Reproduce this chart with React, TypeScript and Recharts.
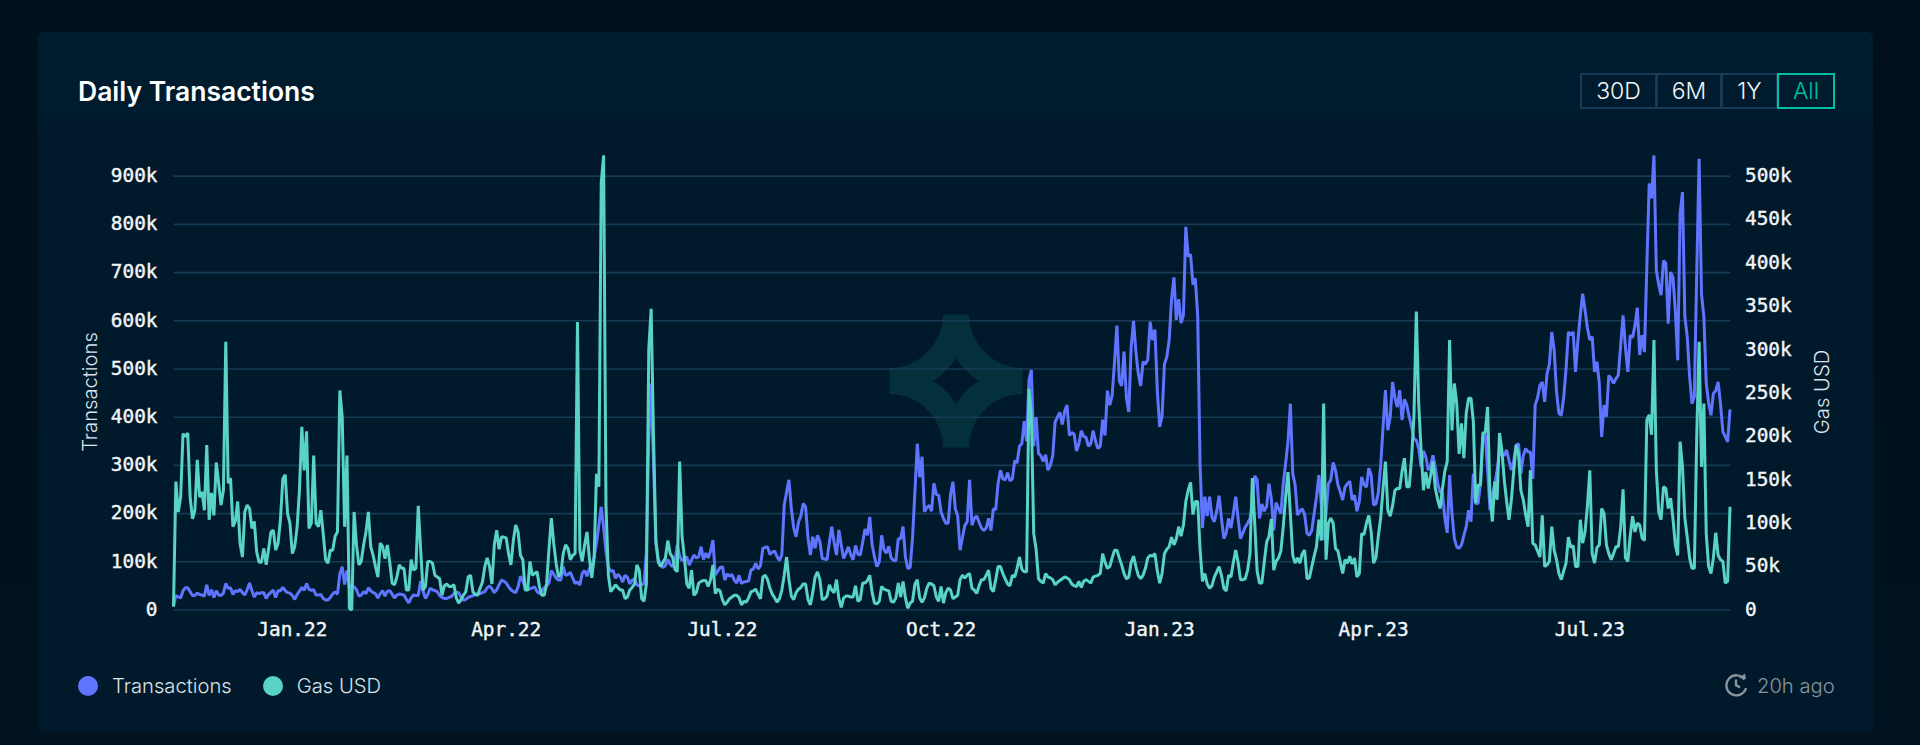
import { CartesianGrid, Legend, Line, LineChart, XAxis, YAxis } from 'recharts';

// one value per day, starting 12 Nov 2021, in thousands
const transactionsK = [
  7, 30, 27, 25, 40, 46, 46, 38, 30, 30, 35, 32, 31, 29, 52, 30, 42, 26, 40, 31,
  30, 35, 55, 45, 46, 32, 40, 38, 43, 36, 31, 42, 56, 40, 27, 36, 34, 36, 36, 24,
  32, 37, 41, 26, 40, 40, 47, 40, 36, 35, 30, 22, 32, 39, 47, 41, 55, 43, 41, 42,
  31, 31, 32, 24, 21, 21, 26, 33, 38, 33, 75, 90, 53, 82, 45, 50, 48, 42, 29, 31,
  38, 34, 46, 40, 36, 34, 25, 34, 40, 29, 39, 40, 33, 25, 31, 33, 32, 31, 22, 15,
  25, 31, 30, 30, 60, 40, 24, 32,
  45, 42, 40, 38, 30, 26, 24, 24, 26, 28, 34, 37, 36, 27, 20, 22, 26, 28, 30, 32,
  33, 34, 36, 38, 46, 50, 44, 36, 42, 52, 62, 60, 56, 48, 42, 38, 36, 48, 70, 60,
  46, 42, 44, 46, 48, 38, 34, 40, 46, 50, 56, 82, 74, 66, 62, 62, 90, 72, 74, 78,
  66, 55, 58, 52, 76, 82, 70, 86, 92, 110, 138, 176, 214, 172, 120, 90, 80, 82, 66, 74,
  69, 58, 72, 68, 54, 62, 64, 52, 50, 52, 55, 120, 350, 470, 300, 138, 105, 95, 88, 92,
  105, 95, 90, 100, 135, 112, 102, 108, 110,
  93, 104, 114, 108, 110, 131, 105, 118, 108, 122, 145, 73, 80, 88, 90, 62, 75, 70, 74, 62,
  56, 72, 55, 58, 59, 60, 83, 85, 97, 85, 92, 128, 130, 131, 115, 120, 122, 110, 103, 115,
  218, 245, 270, 210, 170, 152, 182, 195, 221, 214, 150, 114, 152, 128, 155, 142, 107, 106, 104, 140,
  173, 140, 114, 166, 135, 107, 118, 131, 115, 104, 134, 116, 114, 140, 168, 155, 193, 135, 110, 90,
  100, 155, 125, 118, 132, 108, 103, 102, 148, 148, 173, 110, 86, 88, 150, 245, 345, 275, 318, 204,
  212, 217, 205, 263, 240, 238, 204, 190, 180,
  180, 240, 266, 210, 195, 124, 150, 175, 183, 270, 176, 190, 195, 182, 170, 165, 170, 190, 165, 210,
  208, 263, 290, 272, 270, 285, 268, 272, 310, 305, 340, 345, 392, 350, 477, 498, 340, 400, 325, 320,
  308, 322, 290, 300, 320, 390, 400, 410, 385, 412, 425, 362, 368, 365, 330, 345, 372, 360, 358, 340,
  345, 372, 350, 335, 340, 395, 362, 455, 425, 445, 515, 590, 475, 465, 536, 440, 411, 545, 600, 535,
  490, 465, 515, 510, 520, 598, 560, 582, 455, 380, 402, 510, 525, 560, 645, 690, 602, 645, 595, 612,
  795, 733, 738, 675, 688, 610, 300, 170, 235, 195,
  235, 193, 183, 205, 237, 190, 148, 160, 190, 170, 200, 235, 190, 148, 160, 172, 180, 190, 220, 278,
  270, 190, 220, 205, 215, 262, 230, 165, 223, 210, 200, 262, 304, 350, 428, 283, 259, 197, 205, 210,
  198, 159, 155, 165, 200, 235, 280, 220, 145, 200, 262, 270, 306, 290, 260, 245, 228, 255, 262, 267,
  228, 238, 205, 225, 276, 260, 255, 294, 280, 218, 220, 243, 300, 380, 456, 373, 400, 473, 440, 421,
  456, 394, 437, 425, 401, 380, 355, 352, 335, 297, 330, 318, 290, 300, 321, 295, 262, 245, 242, 190,
  160, 280, 200, 148, 131, 128, 135, 155, 173, 207,
  183, 283, 221, 221, 262, 359, 366, 290, 207, 240, 262, 290, 332, 321, 321, 332, 310, 290, 310, 342,
  345, 283, 320, 335, 328, 328, 272, 425, 440, 466, 473, 432, 490, 510, 577, 539, 453, 408, 404, 440,
  500, 577, 570, 577, 494, 560, 610, 656, 622, 585, 560, 567, 494, 515, 470, 359, 425, 401, 487, 480,
  470, 480, 487, 550, 611, 545, 494, 570, 565, 590, 627, 529, 570, 535, 712, 885, 854, 943, 705, 675,
  653, 725, 720, 594, 701, 690, 620, 518, 822, 867, 608, 567, 484, 428, 443, 700, 936, 656, 608, 470,
  430, 404, 449, 455, 473, 428, 370, 360, 349, 416,
];

const gasUsdK = [
  4, 148, 113, 130, 203, 200, 204, 130, 105, 115, 173, 130, 136, 115, 190, 104, 135, 109, 170, 146,
  121, 138, 309, 146, 152, 96, 102, 125, 77, 61, 113, 121, 117, 94, 102, 67, 55, 55, 71, 52,
  70, 90, 92, 69, 77, 104, 151, 156, 111, 100, 65, 73, 95, 138, 211, 161, 206, 94, 100, 178,
  100, 96, 115, 88, 58, 54, 69, 69, 85, 90, 253, 222, 96, 178, 2, 0, 113, 75, 52, 56,
  75, 90, 113, 73, 63, 50, 38, 77, 73, 59, 75, 55, 31, 29, 38, 52, 48, 48, 23, 23,
  58, 46, 48, 120, 70, 23, 27, 56,
  56, 54, 40, 38, 36, 17, 28, 30, 27, 27, 29, 14, 8, 12, 17, 21, 38, 40, 21, 18,
  17, 25, 32, 50, 60, 50, 30, 75, 92, 70, 84, 84, 83, 65, 52, 80, 98, 90, 63, 58,
  23, 23, 56, 40, 42, 44, 27, 17, 17, 30, 70, 106, 77, 54, 38, 42, 65, 75, 71, 58,
  63, 65, 332, 69, 56, 75, 90, 60, 37, 60, 157, 142, 492, 524, 120, 40, 21, 25, 29, 26,
  23, 23, 13, 15, 23, 26, 30, 52, 46, 13, 10, 30, 300, 347, 200, 80, 55, 50, 55, 60,
  80, 65, 61, 47, 44, 171, 85, 60, 30,
  25, 46, 17, 20, 31, 33, 34, 34, 27, 35, 52, 19, 24, 22, 12, 6, 9, 13, 15, 17,
  17, 14, 6, 10, 9, 14, 21, 22, 24, 18, 13, 38, 40, 35, 25, 18, 14, 9, 13, 23,
  40, 61, 35, 16, 12, 20, 24, 26, 30, 30, 12, 6, 20, 38, 44, 35, 12, 13, 16, 29,
  23, 20, 35, 13, 3, 14, 16, 16, 15, 15, 28, 10, 12, 31, 31, 34, 40, 20, 8, 7,
  10, 27, 24, 23, 22, 10, 9, 14, 31, 15, 33, 14, 2, 8, 10, 30, 35, 14, 9, 14,
  25, 31, 30, 28, 15, 10, 27, 8, 20,
  25, 23, 13, 15, 17, 35, 40, 37, 40, 42, 25, 23, 19, 28, 35, 35, 40, 46, 25, 21,
  35, 50, 50, 42, 36, 30, 28, 40, 38, 48, 61, 47, 44, 44, 255, 223, 88, 70, 36, 33,
  31, 42, 38, 37, 35, 29, 32, 34, 36, 38, 37, 35, 30, 28, 27, 33, 26, 33, 35, 33,
  31, 38, 39, 40, 42, 65, 55, 48, 50, 60, 69, 69, 60, 52, 42, 36, 38, 55, 62, 50,
  40, 36, 40, 48, 60, 63, 62, 65, 45, 31, 42, 65, 70, 73, 84, 75, 82, 96, 85, 98,
  125, 138, 147, 110, 125, 125, 70, 33, 42, 30,
  25, 28, 38, 44, 50, 40, 25, 22, 40, 38, 55, 69, 55, 35, 35, 36, 46, 65, 152, 100,
  45, 31, 31, 55, 78, 85, 105, 46, 56, 60, 68, 96, 130, 159, 110, 63, 54, 60, 54, 65,
  69, 36, 37, 50, 62, 73, 104, 80, 238, 58, 100, 106, 100, 71, 68, 55, 42, 58, 54, 62,
  53, 60, 38, 42, 88, 87, 100, 109, 90, 54, 60, 85, 106, 140, 171, 115, 108, 120, 138, 140,
  140, 160, 175, 142, 142, 175, 223, 344, 238, 185, 138, 159, 140, 155, 171, 140, 127, 117, 140, 160,
  171, 311, 207, 261, 238, 180, 215, 175, 227, 244,
  244, 217, 123, 144, 144, 204, 205, 234, 130, 102, 148, 127, 204, 184, 150, 125, 104, 127, 160, 190,
  180, 138, 127, 110, 96, 161, 77, 75, 68, 61, 109, 50, 52, 56, 96, 69, 58, 42, 35, 45,
  54, 84, 72, 74, 50, 50, 104, 77, 90, 120, 161, 65, 54, 72, 75, 117, 111, 75, 65, 58,
  65, 73, 73, 95, 139, 60, 56, 85, 108, 90, 100, 98, 83, 80, 219, 225, 202, 311, 161, 113,
  104, 142, 140, 117, 129, 105, 75, 63, 194, 165, 106, 84, 60, 48, 48, 200, 309, 165, 238, 88,
  50, 42, 60, 89, 63, 58, 56, 31, 33, 119,
];

const tickDays = [50, 140, 231, 323, 415, 505, 596];
const tickLabels = ['Jan.22', 'Apr.22', 'Jul.22', 'Oct.22', 'Jan.23', 'Apr.23', 'Jul.23'];
const leftTicks = [0, 100000, 200000, 300000, 400000, 500000, 600000, 700000, 800000, 900000];
const rightTicks = [0, 50000, 100000, 150000, 200000, 250000, 300000, 350000, 400000, 450000, 500000];
const ranges = ['30D', '6M', '1Y', 'All'];

const data = transactionsK.map((t, i) => ({
  day: i,
  transactions: t * 1000,
  gas: gasUsdK[i] * 1000,
}));

const BLUE = '#6075FF';
const TEAL = '#58D3C6';
const GRID = '#173A55';
const MONO = '"DejaVu Sans Mono", monospace';

const formatK = (v: number) => (v === 0 ? '0' : `${v / 1000}k`);
const formatDay = (v: number) => tickLabels[tickDays.indexOf(v)] ?? '';

const tickStyle = { fill: '#F2F5F7', stroke: '#F2F5F7', strokeWidth: 0.4, fontFamily: MONO, fontSize: 19.4, dy: -1 };
const axisTitle = { fill: '#DCE2E7', fontFamily: 'Inter', fontSize: 20.2, fontWeight: 300, textAnchor: 'middle' as const };

function ChartLegend({ payload }: any) {
  return (
    <div style={{ display: 'flex', alignItems: 'center', fontFamily: 'Inter', fontSize: 20.2, fontWeight: 300, color: '#DCE2E7' }}>
      {(payload ?? []).map((item: any) => (
        <div key={item.value} style={{ display: 'flex', alignItems: 'center', marginRight: 31 }}>
          <span style={{ width: 20, height: 20, borderRadius: '50%', background: item.color, marginRight: 14 }} />
          {item.value}
        </div>
      ))}
    </div>
  );
}

function Watermark() {
  return (
    <svg width={134} height={134} viewBox="-67 -67 134 134" style={{ position: 'absolute', left: 888.5, top: 313.5 }}>
      <path
        fill="#04303C"
        fillRule="evenodd"
        d="M-13 -66.5 L13 -66.5 A53.5 53.5 0 0 0 66.5 -13 L66.5 13 A53.5 53.5 0 0 0 13 66.5 L-13 66.5 A53.5 53.5 0 0 0 -66.5 13 L-66.5 -13 A53.5 53.5 0 0 0 -13 -66.5 Z M0 -23 Q9 -9 23 0 Q9 9 0 23 Q-9 9 -23 0 Q-9 -9 0 -23 Z"
      />
    </svg>
  );
}

function RangeButtons() {
  return (
    <div style={{ position: 'absolute', left: 1580, top: 73, height: 36, display: 'flex', fontFamily: 'Inter', fontSize: 23, fontWeight: 300 }}>
      {ranges.map((r, i) => {
        const active = r === 'All';
        const widths = [77, 66, 57, 58];
        return (
          <div
            key={r}
            style={{
              boxSizing: 'border-box',
              width: widths[i],
              height: 36,
              display: 'flex',
              alignItems: 'center',
              justifyContent: 'center',
              border: `2px solid ${active ? '#00BFA0' : GRID}`,
              marginLeft: i === 0 ? 0 : -1,
              color: active ? '#00BFA0' : '#F2F5F7',
              position: 'relative',
            }}
          >
            {r}
          </div>
        );
      })}
    </div>
  );
}

function UpdatedAgo() {
  return (
    <div style={{ position: 'absolute', left: 1725, top: 673, height: 24, display: 'flex', alignItems: 'center', fontFamily: 'Inter', fontSize: 20.2, fontWeight: 300, color: '#8A949D' }}>
      <svg width={24} height={24} viewBox="0 0 24 24" style={{ marginRight: 8 }} fill="none" stroke="#8A949D" strokeWidth={2.4}>
        <path d="M19.5 6.5 A10 10 0 1 0 21 15" />
        <path d="M14 5 L21 6 L20 0.5" fill="#8A949D" stroke="none" />
        <path d="M11 6.5 L11 12 L15 14.5" />
      </svg>
      20h ago
    </div>
  );
}

export default function App() {
  return (
    <div style={{ position: 'absolute', left: 0, top: 0, width: 1920, height: 745, overflow: 'hidden', background: 'linear-gradient(#00101C, #011320)' }}>
      <div style={{ position: 'absolute', left: 38, top: 32, width: 1835, height: 699, borderRadius: 6, background: 'linear-gradient(#001D30 0, #001A2C 15%, #001A2C 100%)' }} />
      <Watermark />
      <div style={{ position: 'absolute', left: 78, top: 75, fontFamily: 'Inter', fontSize: 26.5, fontWeight: 600, color: '#FFFFFF', lineHeight: '32px' }}>
        Daily Transactions
      </div>
      <RangeButtons />
      <div style={{ position: 'absolute', left: 0, top: 0 }}>
        <LineChart width={1920} height={745} data={data} margin={{ top: 154, right: 90, bottom: 95, left: 73.5 }}>
          <CartesianGrid horizontal vertical={false} yAxisId="left" horizontalValues={leftTicks} stroke={GRID} strokeWidth={1.6} />
          <XAxis
            dataKey="day"
            type="number"
            domain={[0, 655]}
            ticks={tickDays}
            tickFormatter={formatDay}
            axisLine={false}
            tickLine={false}
            tick={tickStyle}
            tickMargin={7}
            height={40}
            interval={0}
          />
          <YAxis
            yAxisId="left"
            domain={[0, 946000]}
            ticks={leftTicks}
            tickFormatter={formatK}
            axisLine={false}
            tickLine={false}
            tick={tickStyle}
            tickMargin={10}
            width={100}
            interval={0}
            label={{ value: 'Transactions', angle: -90, position: 'insideLeft', offset: 16, dy: 10, style: axisTitle }}
          />
          <YAxis
            yAxisId="right"
            orientation="right"
            domain={[0, 525500]}
            ticks={rightTicks}
            tickFormatter={formatK}
            axisLine={false}
            tickLine={false}
            tick={tickStyle}
            tickMargin={9}
            width={100}
            interval={0}
            label={{ value: 'Gas USD', angle: -90, position: 'insideRight', offset: 8, dy: 10, style: axisTitle }}
          />
          <Legend
            layout="horizontal"
            verticalAlign="middle"
            itemSorter={null}
            content={<ChartLegend />}
            wrapperStyle={{ position: 'absolute', left: 78, top: 673, width: 'auto', height: 24 }}
          />
          <Line yAxisId="left" type="linear" dataKey="transactions" name="Transactions" stroke={BLUE} strokeWidth={3} strokeLinejoin="bevel" dot={false} activeDot={false} isAnimationActive={false} />
          <Line yAxisId="right" type="linear" dataKey="gas" name="Gas USD" stroke={TEAL} strokeWidth={3} strokeLinejoin="bevel" dot={false} activeDot={false} isAnimationActive={false} />
        </LineChart>
      </div>
      <UpdatedAgo />
    </div>
  );
}
